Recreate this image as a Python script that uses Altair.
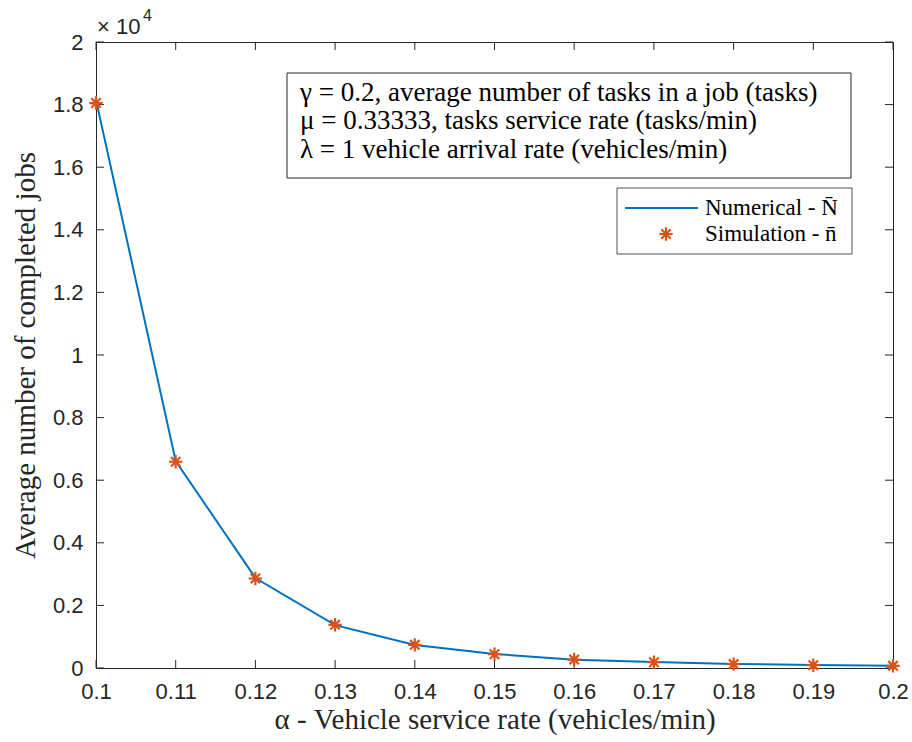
import altair as alt
import pandas as pd

# data
alpha = [0.10, 0.11, 0.12, 0.13, 0.14, 0.15, 0.16, 0.17, 0.18, 0.19, 0.20]
numerical = [18150, 6610, 2875, 1370, 735, 450, 265, 190, 130, 95, 70]
simulation = [18050, 6590, 2860, 1380, 740, 440, 270, 185, 125, 90, 70]
x_ticks = [0.10, 0.11, 0.12, 0.13, 0.14, 0.15, 0.16, 0.17, 0.18, 0.19, 0.20]
y_ticks = [0, 2000, 4000, 6000, 8000, 10000, 12000, 14000, 16000, 18000, 20000]
info_lines = [
    "γ = 0.2, average number of tasks in a job (tasks)",
    "μ = 0.33333, tasks service rate (tasks/min)",
    "λ = 1 vehicle arrival rate (vehicles/min)",
]
legend_labels = ["Numerical - N̄", "Simulation - n̄"]

W, H = 797, 626
AX = "#262626"
BLUE = "#0072BD"
ORANGE = "#D95319"
SANS = "Liberation Sans"
SERIF = "Liberation Serif"

df = pd.DataFrame({"alpha": alpha, "num": numerical, "sim": simulation})
xs = alt.Scale(domain=[0.1, 0.2], nice=False, zero=False)
ys = alt.Scale(domain=[0, 20000], nice=False)

xaxis = alt.Axis(values=x_ticks, labelExpr="format(datum.value, '~g')", ticks=False, domain=False,
                 grid=False, labelFont=SANS, labelFontSize=22, labelColor=AX, labelPadding=13,
                 labelFlush=False, labelOverlap=False,
                 title="α - Vehicle service rate (vehicles/min)", titleFont=SERIF, titleFontSize=29,
                 titleFontWeight="normal", titleColor=AX, titlePadding=3)
yaxis = alt.Axis(values=y_ticks, labelExpr="format(datum.value/10000, '~g')", ticks=False, domain=False,
                 grid=False, labelFont=SANS, labelFontSize=22, labelColor=AX, labelPadding=13,
                 labelFlush=False, labelOverlap=False,
                 title="Average number of completed jobs", titleFont=SERIF, titleFontSize=29,
                 titleFontWeight="normal", titleColor=AX, titlePadding=12)

base = alt.Chart(df)
line = base.mark_line(color=BLUE, strokeWidth=2).encode(
    x=alt.X("alpha:Q", scale=xs, axis=xaxis),
    y=alt.Y("num:Q", scale=ys, axis=yaxis),
)
STAR = "M-1,0L1,0M0,-1L0,1M-0.7,-0.7L0.7,0.7M-0.7,0.7L0.7,-0.7"
pts = base.mark_point(shape=STAR, filled=False, color=ORANGE, strokeWidth=2.2, size=180, opacity=1).encode(
    x=alt.X("alpha:Q", scale=xs), y=alt.Y("sim:Q", scale=ys))

xt = alt.Chart(pd.DataFrame({"t": x_ticks}))
yt = alt.Chart(pd.DataFrame({"t": y_ticks}))
tick_style = dict(color=AX, strokeWidth=1)
xb = xt.mark_rule(**tick_style).encode(x=alt.X("t:Q", scale=xs), y=alt.value(H), y2=alt.value(H - 8))
xtp = xt.mark_rule(**tick_style).encode(x=alt.X("t:Q", scale=xs), y=alt.value(0), y2=alt.value(8))
yl = yt.mark_rule(**tick_style).encode(y=alt.Y("t:Q", scale=ys), x=alt.value(0), x2=alt.value(8))
yr = yt.mark_rule(**tick_style).encode(y=alt.Y("t:Q", scale=ys), x=alt.value(W), x2=alt.value(W - 8))


def label(text, x, y, font, size, color="black"):
    return alt.Chart(pd.DataFrame({"s": [text]})).mark_text(
        font=font, fontSize=size, color=color, align="left", baseline="middle").encode(
        text="s:N", x=alt.value(x), y=alt.value(y))


# multiplier
mult = label("× 10", 1, -15, SANS, 22, AX)
mult4 = label("4", 47, -26, SANS, 16, AX)

# info box
ibox = alt.Chart(pd.DataFrame({"a": [0]})).mark_rect(fill="white", stroke=AX, strokeWidth=1).encode(
    x=alt.value(191), x2=alt.value(755), y=alt.value(31), y2=alt.value(136))
itexts = [label(s, 204, yy, SERIF, 27) for s, yy in zip(info_lines, [51, 79, 108])]

# legend
lbox = alt.Chart(pd.DataFrame({"a": [0]})).mark_rect(fill="white", stroke=AX, strokeWidth=0.8).encode(
    x=alt.value(521), x2=alt.value(756), y=alt.value(146), y2=alt.value(212))
lline = alt.Chart(pd.DataFrame({"a": [0]})).mark_rule(color=BLUE, strokeWidth=2).encode(
    x=alt.value(529), x2=alt.value(602), y=alt.value(166))
lstar = alt.Chart(pd.DataFrame({"a": [0]})).mark_point(
    shape=STAR, filled=False, color=ORANGE, strokeWidth=2.2, size=180, opacity=1).encode(
    x=alt.value(570), y=alt.value(192))
ltexts = [label(s, 609, yy, SERIF, 23) for s, yy in zip(legend_labels, [166, 192])]

chart = alt.layer(line, xb, xtp, yl, yr, pts, mult, mult4, ibox, *itexts, lbox, lline, lstar, *ltexts).properties(
    width=W, height=H, background="white",
    padding={"left": 96, "top": 42, "right": 19, "bottom": 74},
    autosize=alt.AutoSizeParams(type="none"),
).configure_view(stroke=AX, strokeWidth=1)

chart.save("out.html", embed_options={"renderer": "svg", "actions": False})
